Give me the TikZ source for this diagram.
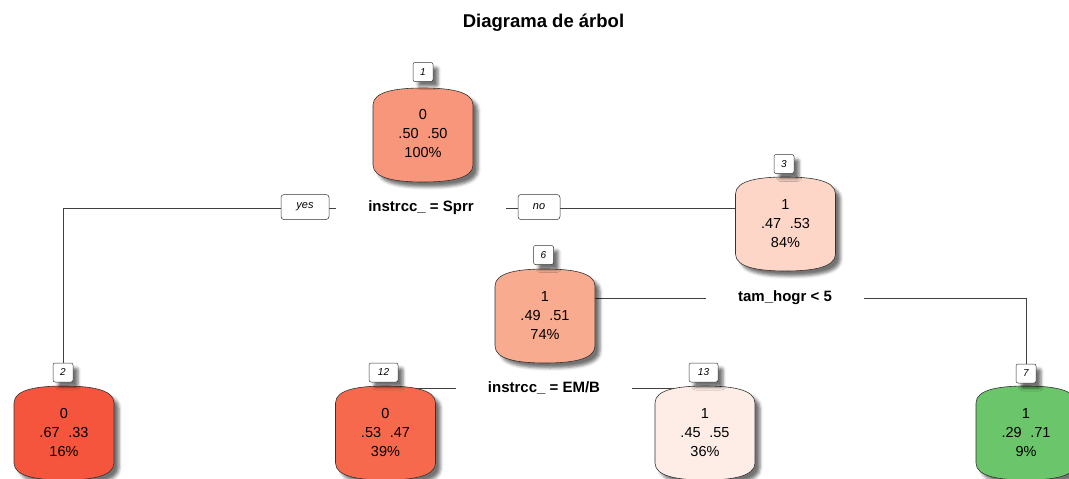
\documentclass[tikz,border=0pt]{standalone}
\usepackage{fontspec}
\setmainfont{Liberation Sans}
\usetikzlibrary{shadows.blur}
\pgfdeclarelayer{bg}
\pgfsetlayers{bg,main}

% colours of the leaves and inner nodes
\definecolor{cA}{HTML}{F8967B}
\definecolor{cB}{HTML}{F6553D}
\definecolor{cC}{HTML}{FDD6C7}
\definecolor{cD}{HTML}{F9AB8F}
\definecolor{cE}{HTML}{F6694D}
\definecolor{cF}{HTML}{FEEDE7}
\definecolor{cG}{HTML}{6BC56B}

% barrel-shaped box centred at (#1,#2), filled with colour #3
\newcommand\barrelbox[3]{%
  \path[draw=black!80, line width=0.6pt, fill=#3, boxshadow]
    (#1-50,#2-30) .. controls (#1-50,#2-44) and (#1-25,#2-47) .. (#1,#2-47)
    .. controls (#1+25,#2-47) and (#1+50,#2-44) .. (#1+50,#2-30)
    -- (#1+50,#2+30)
    .. controls (#1+50,#2+44) and (#1+25,#2+47) .. (#1,#2+47)
    .. controls (#1-25,#2+47) and (#1-50,#2+44) .. (#1-50,#2+30)
    -- cycle;}

\tikzset{
  boxshadow/.style={blur shadow={shadow xshift=5pt, shadow yshift=-5pt,
      shadow blur radius=3pt, shadow opacity=55}},
  nodetext/.style={align=center, inner sep=0pt,
      font=\fontsize{14.5}{19}\selectfont},
  numbox/.style={draw=black!80, line width=0.5pt, fill=white, rounded corners=2pt,
      minimum height=19pt, minimum width=20pt, inner sep=2pt,
      font=\fontsize{10}{11}\selectfont\itshape, boxshadow},
  splitlabel/.style={font=\fontsize{15}{18}\bfseries, inner xsep=32pt, inner ysep=2pt},
  yesno/.style={draw=black!80, line width=0.5pt, fill=white, rounded corners=3pt,
      minimum height=25pt, font=\fontsize{11}{13}\selectfont\itshape},
  branch/.style={draw=black!75, line width=0.7pt}
}

\begin{document}
\begin{tikzpicture}[x=1pt, y=-1pt]
\useasboundingbox (0,0) rectangle (1069,479);

\node[font=\fontsize{18.5}{22}\selectfont\bfseries] (title) at (543.5,23) {Diagrama de árbol};

% tree nodes
\barrelbox{423}{135}{cA}
\node[nodetext] (n1) at (423,134) {0\\.50\hspace{0.6em}.50\\100\%};
\node[numbox] (lab1) at (423,72) {1};

\barrelbox{785.5}{224}{cC}
\node[nodetext] (n3) at (785.5,224) {1\\.47\hspace{0.6em}.53\\84\%};
\node[numbox] (lab3) at (784,164) {3};

\barrelbox{545}{316}{cD}
\node[nodetext] (n6) at (545,316) {1\\.49\hspace{0.6em}.51\\74\%};
\node[numbox] (lab6) at (543.5,255) {6};

\barrelbox{64}{433}{cB}
\node[nodetext] (n2) at (64,433) {0\\.67\hspace{0.6em}.33\\16\%};
\node[numbox] (lab2) at (63,372.5) {2};

\barrelbox{385.5}{433}{cE}
\node[nodetext] (n12) at (385.5,433) {0\\.53\hspace{0.6em}.47\\39\%};
\node[numbox, minimum width=29pt] (lab12) at (383.5,372.5) {12};

\barrelbox{705}{433}{cF}
\node[nodetext] (n13) at (705,433) {1\\.45\hspace{0.6em}.55\\36\%};
\node[numbox, minimum width=29pt] (lab13) at (703.5,372.5) {13};

\barrelbox{1026}{433}{cG}
\node[nodetext] (n7) at (1026,433) {1\\.29\hspace{0.6em}.71\\9\%};
\node[numbox] (lab7) at (1026,373.5) {7};

% split conditions
\node[splitlabel] (s1) at (421,208) {instrcc\_ = Sprr};
\node[splitlabel] (s3) at (785,298) {tam\_hogr < 5};
\node[splitlabel] (s6) at (544,388) {instrcc\_ = EM/B};

% branches, drawn beneath the boxes
\begin{pgfonlayer}{bg}
  \draw[branch] (s1.west) -| (lab2.north);
  \draw[branch] (s1.east) -| (n3.center);
  \draw[branch] (s3.west) -| (n6.center);
  \draw[branch] (s3.east) -| (lab7.north);
  \draw[branch] (s6.west) -| (n12.center);
  \draw[branch] (s6.east) -| (n13.center);
\end{pgfonlayer}

\node[yesno, minimum width=48pt] (yes) at (305,207) {yes};
\node[yesno, minimum width=42pt] (no) at (539,207) {no};
\end{tikzpicture}
\end{document}
